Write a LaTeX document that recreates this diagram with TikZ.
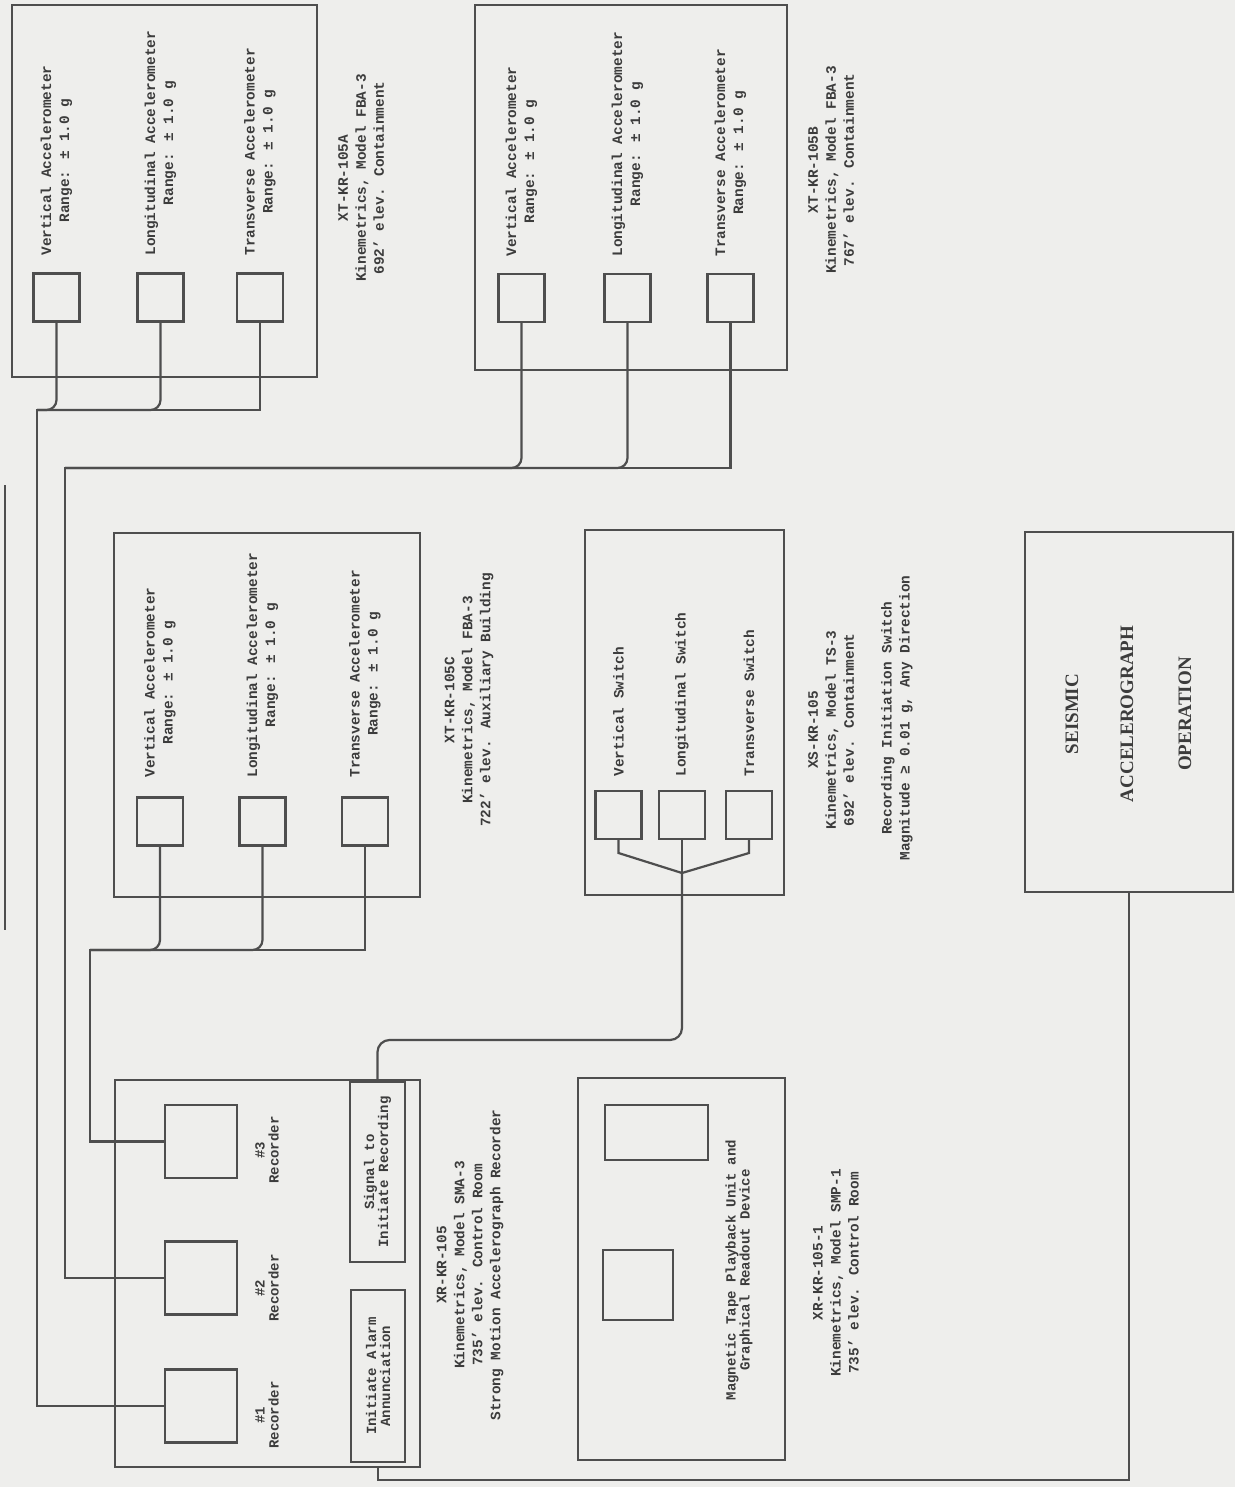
\documentclass[tikz,border=0pt]{standalone}
\usepackage{fontspec}
\setmainfont{Liberation Mono}
\newfontfamily\serifb{Liberation Serif}
\definecolor{paper}{RGB}{238,238,236}
\definecolor{ink}{RGB}{78,78,78}
\definecolor{txt}{RGB}{60,60,60}
\tikzset{
 box/.style={draw=ink, line width=1.3pt, inner sep=0pt, outer sep=0pt},
 sq/.style={box, minimum width=23pt, minimum height=24pt},
 rsq/.style={box, minimum width=36pt, minimum height=36.5pt},
 wire/.style={draw=ink, line width=1.1pt},
 lbl/.style={rotate=90, text=txt, font=\bfseries\fontsize{7.2}{9}\selectfont, align=center, inner sep=0pt},
 sml/.style={lbl, font=\bfseries\fontsize{7}{7}\selectfont},
 big/.style={rotate=90, text=txt, font=\serifb\bfseries\fontsize{9.5}{11}\selectfont, inner sep=0pt}
}
\begin{document}
\begin{tikzpicture}[x=0.5pt,y=-0.5pt]
\fill[paper] (0,0) rectangle (1235,1487);
\useasboundingbox (0,0) rectangle (1235,1487);

% ---- Box A ----
\node[box, minimum width=152.5pt, minimum height=186pt] (A) at (164.5,191) {};
\node[sq] (a1) at (56.5,297.5) {};
\node[sq] (a2) at (160.5,297.5) {};
\node[sq] (a3) at (260,297.5) {};
\node[lbl, anchor=west] (ta1) at (56.5,256) {Vertical Accelerometer\\Range: ± 1.0 g};
\node[lbl, anchor=west] (ta2) at (160.5,256) {Longitudinal Accelerometer\\Range: ± 1.0 g};
\node[lbl, anchor=west] (ta3) at (260,256) {Transverse Accelerometer\\Range: ± 1.0 g};
\node[lbl] (LA) at (361,178) {XT-KR-105A\\Kinemetrics, Model FBA-3\\692' elev. Containment};

% ---- Box B ----
\node[box, minimum width=156pt, minimum height=182.5pt] (B) at (631,187.5) {};
\node[sq] (b1) at (521.5,298) {};
\node[sq] (b2) at (627.5,298) {};
\node[sq] (b3) at (730.5,298) {};
\node[lbl, anchor=west] (tb1) at (521.5,257) {Vertical Accelerometer\\Range: ± 1.0 g};
\node[lbl, anchor=west] (tb2) at (627.5,257) {Longitudinal Accelerometer\\Range: ± 1.0 g};
\node[lbl, anchor=west] (tb3) at (730.5,257) {Transverse Accelerometer\\Range: ± 1.0 g};
\node[lbl] (LB) at (831,170) {XT-KR-105B\\Kinemetrics, Model FBA-3\\767' elev. Containment};

% ---- Box C ----
\node[box, minimum width=153pt, minimum height=182pt] (C) at (267,715) {};
\node[sq] (c1) at (160,821.5) {};
\node[sq] (c2) at (262.5,821.5) {};
\node[sq] (c3) at (365,821.5) {};
\node[lbl, anchor=west] (tc1) at (160,778) {Vertical Accelerometer\\Range: ± 1.0 g};
\node[lbl, anchor=west] (tc2) at (262.5,778) {Longitudinal Accelerometer\\Range: ± 1.0 g};
\node[lbl, anchor=west] (tc3) at (365,778) {Transverse Accelerometer\\Range: ± 1.0 g};
\node[lbl] (LC) at (469,700) {XT-KR-105C\\Kinemetrics, Model FBA-3\\722' elev. Auxiliary Building};

% ---- Switch box ----
\node[box, minimum width=99.5pt, minimum height=182.5pt] (S) at (684.5,712.5) {};
\node[sq] (s1) at (618.5,815) {};
\node[sq] (s2) at (682,815) {};
\node[sq] (s3) at (749,815) {};
\node[lbl, anchor=west] (ts1) at (618.5,777) {Vertical Switch};
\node[lbl, anchor=west] (ts2) at (682,777) {Longitudinal Switch};
\node[lbl, anchor=west] (ts3) at (749,777) {Transverse Switch};
\node[lbl] (LS) at (831,730) {XS-KR-105\\Kinemetrics, Model TS-3\\692' elev. Containment};
\node[lbl] (LS2) at (897,718) {Recording Initiation Switch\\Magnitude ≥ 0.01 g, Any Direction};

% ---- Seismic box ----
\node[box, minimum width=104pt, minimum height=180pt] (SE) at (1129,712) {};
\node[big] (t1) at (1072,714) {SEISMIC};
\node[big] (t2) at (1127,714) {ACCELEROGRAPH};
\node[big] (t3) at (1185,714) {OPERATION};

% ---- Recorder box ----
\node[box, minimum width=152.5pt, minimum height=193.5pt] (R) at (267.5,1273.5) {};
\node[rsq] (r3) at (201,1141.5) {};
\node[rsq] (r2) at (201,1278) {};
\node[rsq] (r1) at (201,1406) {};
\node[sml] (tr3) at (267,1150) {\#3\\Recorder};
\node[sml] (tr2) at (267,1288) {\#2\\Recorder};
\node[sml] (tr1) at (267,1415) {\#1\\Recorder};
\node[box, minimum width=27.5pt, minimum height=90pt] (sig) at (377.5,1172) {};
\node[sml] (tsig) at (sig) {Signal to\\Initiate Recording};
\node[box, minimum width=27pt, minimum height=86pt] (alarm) at (378,1376) {};
\node[sml] (talarm) at (alarm) {Initiate Alarm\\Annunciation};
\node[lbl] (LR) at (470,1265) {XR-KR-105\\Kinemetrics, Model SMA-3\\735' elev. Control Room\\Strong Motion Accelerograph Recorder};

% ---- Magnetic tape box ----
\node[box, minimum width=103.5pt, minimum height=191pt] (M) at (681.5,1269) {};
\node[box, minimum width=51.5pt, minimum height=27.5pt] (m3) at (656.5,1132.5) {};
\node[box, minimum width=35pt, minimum height=35pt] (m1) at (638,1285) {};
\node[sml] (tm) at (739,1270) {Magnetic Tape Playback Unit and\\Graphical Readout Device};
\node[lbl] (LM) at (836,1273) {XR-KR-105-1\\Kinemetrics, Model SMP-1\\735' elev. Control Room};

% ---- wiring ----
\coordinate (ja) at (37,410);
\draw[wire] (a3.south) |- (ja) |- (r1.west);
\draw[wire, rounded corners=5pt] (a1.south) |- (ja);
\draw[wire, rounded corners=5pt] (a2.south) |- (ja);

\coordinate (jb) at (65,468);
\draw[wire] (b3.south) |- (jb) |- (r2.west);
\draw[wire, rounded corners=5pt] (b1.south) |- (jb);
\draw[wire, rounded corners=5pt] (b2.south) |- (jb);

\coordinate (jc) at (90,950);
\draw[wire] (c3.south) |- (jc) |- (r3.west);
\draw[wire, rounded corners=5pt] (c1.south) |- (jc);
\draw[wire, rounded corners=5pt] (c2.south) |- (jc);

\coordinate (js) at (682,873);
\draw[wire] (s1.south) -- ++(0,14) -- (js);
\draw[wire] (s3.south) -- ++(0,14) -- (js);
\draw[wire] (s2.south) -- (js);
\coordinate (jsig) at (682,1040);
\draw[wire, rounded corners=6pt] (js) -- (jsig) -| (sig.north);

\coordinate (jse) at (1129,1480);
\draw[wire] (SE.south) -- (jse) -| (alarm.south |- R.south);

\coordinate (fl1) at (5,485);
\coordinate (fl2) at (5,930);
\draw[wire] (fl1) -- (fl2);
\end{tikzpicture}
\end{document}
